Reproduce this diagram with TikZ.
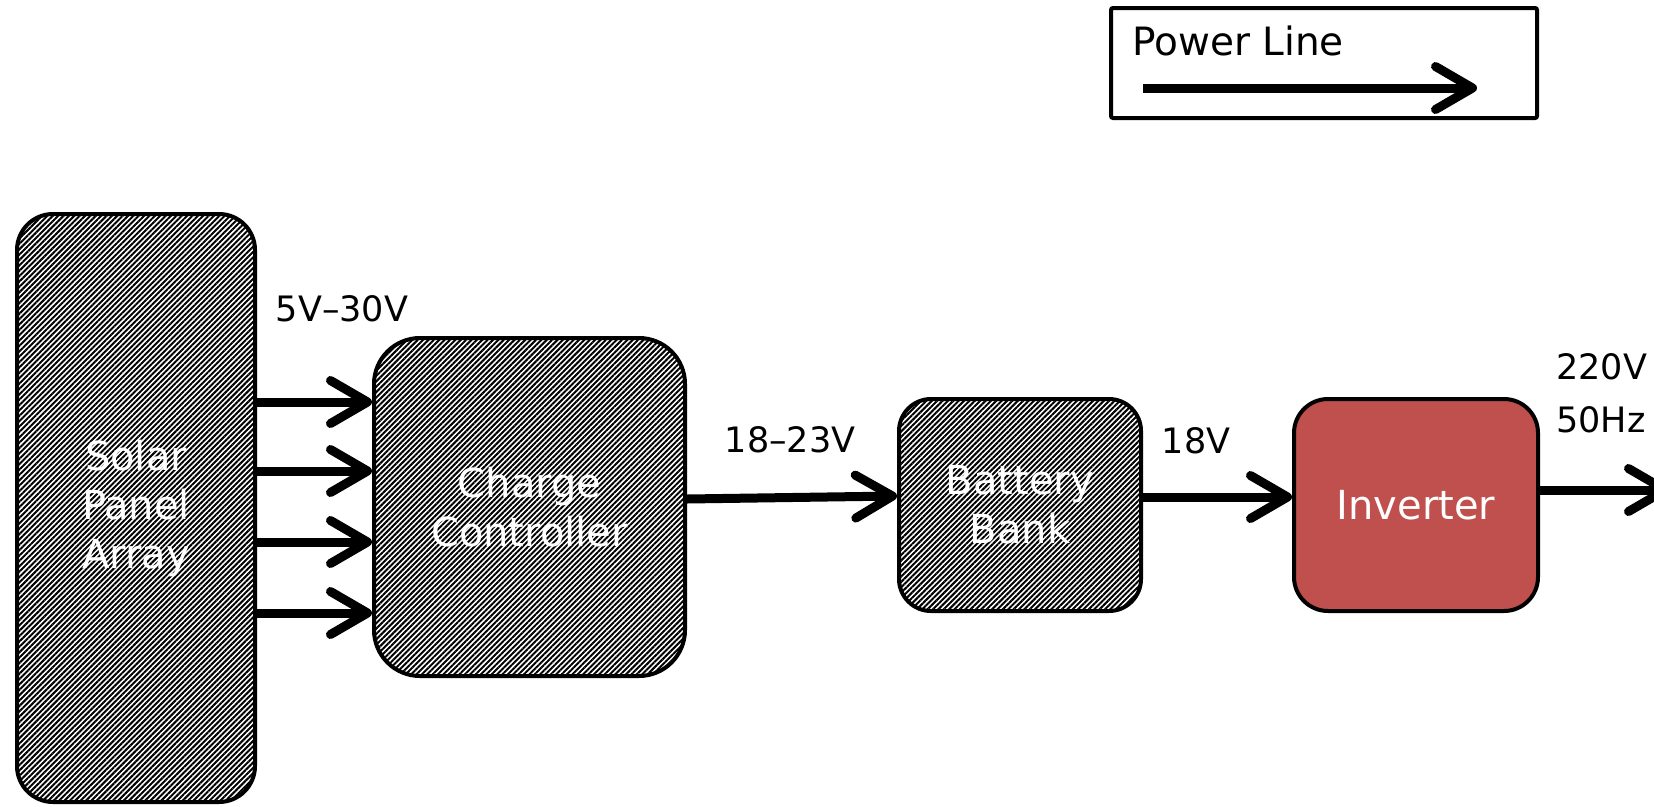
\documentclass[tikz,border=0pt]{standalone}
\usepackage{fontspec}
\setmainfont{DejaVu Sans}
\usetikzlibrary{arrows.meta,patterns.meta}
\definecolor{invred}{RGB}{192,80,77}
\tikzset{
  blk/.style={draw=black, line width=4pt, inner sep=0pt, align=center,
    text=white, font=\fontsize{40}{49}\selectfont},
  hatched/.style={blk, pattern={Lines[angle=45,distance=3.8pt,line width=2pt]}, pattern color=black},
  pl/.style={line width=9pt, -{Straight Barb[length=37pt,width=43pt,round]}},
  lbl/.style={font=\fontsize{35}{53}\selectfont, inner sep=0pt}
}
\begin{document}
\begin{tikzpicture}[x=1pt,y=-1pt]
\useasboundingbox (0,0) rectangle (1654,806);
% legend
\node[draw=black, line width=4pt, rounded corners=2pt, minimum width=426pt, minimum height=110pt, inner sep=0pt] (leg) at (1324,63) {};
\node[font=\fontsize{39}{47}\selectfont, inner sep=0pt, anchor=west] (legtxt) at (1132,41) {Power Line};
\coordinate (la) at (1143,88);
\coordinate (lb) at (1477,88);
\draw[pl] (la) -- (lb);
% blocks
\node[hatched, rounded corners=36pt, minimum width=238pt, minimum height=588pt] (sp) at (136,508) {Solar\\Panel\\Array};
\node[hatched, rounded corners=46pt, minimum width=311pt, minimum height=338pt] (cc) at (529.5,507) {Charge\\Controller};
\node[hatched, rounded corners=32pt, minimum width=242pt, minimum height=212pt] (bb) at (1020,505) {Battery\\Bank};
\node[blk, fill=invred, rounded corners=34pt, minimum width=244pt, minimum height=212pt] (inv) at (1416,505) {Inverter};
% connectors
\draw[pl] (sp.east |- 0,402) -- (cc.west |- 0,402);
\draw[pl] (sp.east |- 0,471) -- (cc.west |- 0,471);
\draw[pl] (sp.east |- 0,542) -- (cc.west |- 0,542);
\draw[pl] (sp.east |- 0,613) -- (cc.west |- 0,613);
\draw[pl] (cc.east |- 0,499) -- (bb.west |- 0,496);
\draw[pl] (bb.east |- 0,497) -- (inv.west |- 0,497);
\coordinate (out) at (1670,490);
\draw[pl] (inv.east |- 0,490) -- (out);
% labels
\node[lbl] (l1) at (342,309) {5V–30V};
\node[lbl] (l2) at (790,440) {18–23V};
\node[lbl] (l3) at (1196,441) {18V};
\node[lbl, align=left, anchor=west] (l4) at (1556,393) {220V\\50Hz};
\end{tikzpicture}
\end{document}
